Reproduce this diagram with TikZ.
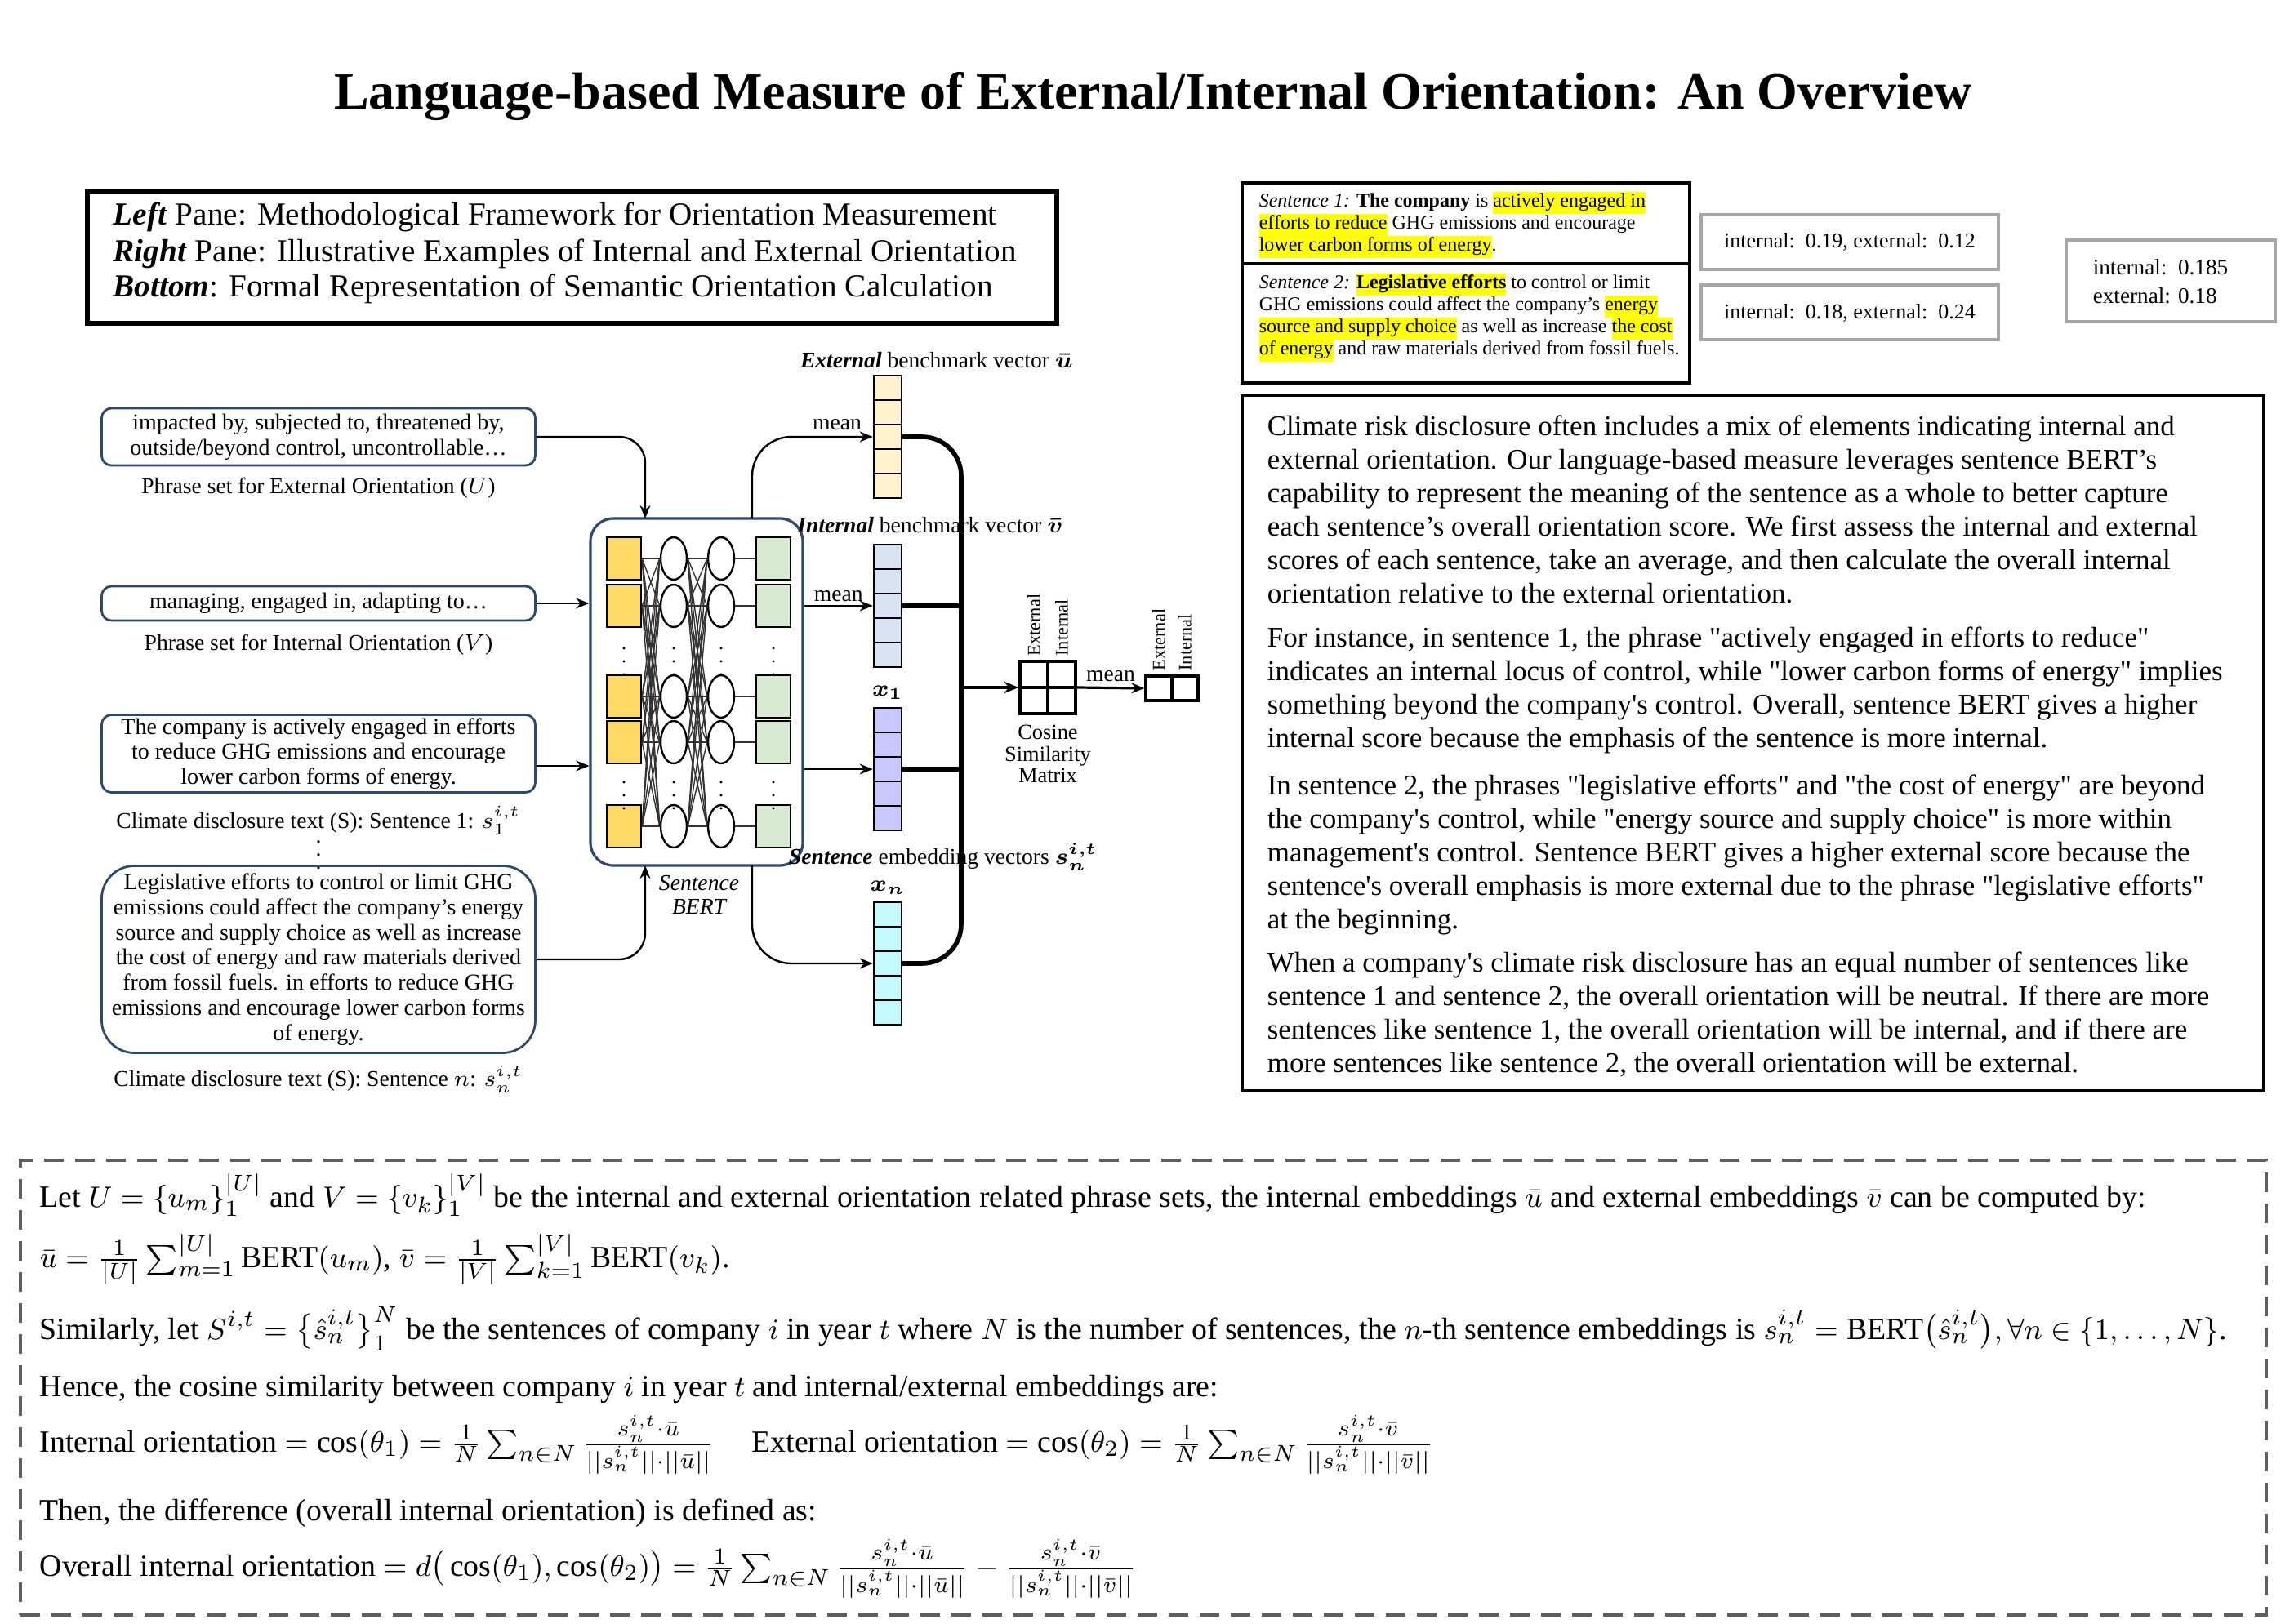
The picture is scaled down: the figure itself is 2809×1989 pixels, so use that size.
\documentclass[tikz,border=0pt]{standalone}
\usepackage{fontspec}
\setmainfont{Liberation Serif}
\usepackage{amsmath}
\usetikzlibrary{arrows.meta,calc,shapes.geometric}
\definecolor{navy}{HTML}{2E4870}
\definecolor{gold}{HTML}{FFD966}
\definecolor{lgreen}{HTML}{D9EAD3}
\definecolor{ucol}{HTML}{FFF2CC}
\definecolor{vcol}{HTML}{DAE3F3}
\definecolor{xcol}{HTML}{C8C8FF}
\definecolor{ncol}{HTML}{C4FAFF}
\definecolor{hly}{HTML}{FFFF00}
\definecolor{dashc}{HTML}{5F5F5F}
\definecolor{scoreb}{HTML}{A6A6A6}
\def\pxu{0.25pt}
\newcommand\fs[2]{\fontsize{#1}{#2}\selectfont}
\newcommand\hlt[1]{{\setlength{\fboxsep}{0pt}\colorbox{hly}{\strut #1}}}
\newcommand\qq[1]{\textquotedbl#1\textquotedbl}
\newcommand\myap{\textquotesingle}
\begin{document}
\begin{tikzpicture}[x=0.25pt,y=-0.25pt,
  every node/.style={inner sep=0pt},
  lbl/.style={font=\fs{6.9}{7.6}},
  inbox/.style={draw=navy, line width=0.7pt, rounded corners=3pt, align=center, minimum width=531*\pxu, font=\fs{7}{7.7}},
  ysq/.style={draw=black, fill=gold, line width=0.6pt, minimum width=42*\pxu, minimum height=52*\pxu},
  gsq/.style={draw=black, fill=lgreen, line width=0.6pt, minimum width=42*\pxu, minimum height=52*\pxu},
  neu/.style={draw=black, ellipse, fill=white, line width=0.6pt, minimum width=32*\pxu, minimum height=52*\pxu},
  cell/.style={draw=black, line width=0.6pt, minimum width=34*\pxu, minimum height=30*\pxu},
  arr/.style={-{Stealth[length=4pt,width=3.2pt]}, line width=0.6pt},
  bus/.style={line width=1.4pt},
  netl/.style={line width=0.35pt, black!80},
  scorebox/.style={draw=scoreb, line width=1pt, font=\fs{6.5}{9}},
  para/.style={anchor=north west, align=left, font=\fs{8.75}{10.25}},
  fline/.style={anchor=base west, font=\fs{9.45}{11}}
]
\fill[white] (0,0) rectangle (2809,1989);
\useasboundingbox (0,0) rectangle (2809,1989);

% Title
\node[font=\fs{16}{18}\bfseries] (title) at (1412,118) {Language-based Measure of External/Internal Orientation: An Overview};

% Legend box
\node[draw, line width=1.4pt, minimum width=1187*\pxu, minimum height=161*\pxu] (leg) at (700.5,315.5) {};
\node[anchor=base west, font=\fs{9.8}{11}] (leg1) at (138,276) {\textbf{\textit{Left}} Pane: Methodological Framework for Orientation Measurement};
\node[anchor=base west, font=\fs{9.8}{11}] (leg2) at (138,321) {\textbf{\textit{Right}} Pane: Illustrative Examples of Internal and External Orientation};
\node[anchor=base west, font=\fs{9.8}{11}] (leg3) at (138,364) {\textbf{\textit{Bottom}}: Formal Representation of Semantic Orientation Calculation};

% Left input boxes
\node[inbox, minimum height=70*\pxu] (ph1) at (390,535) {impacted by, subjected to, threatened by,\\outside/beyond control, uncontrollable\ldots};
\node[lbl] (ph1l) at (390,598) {Phrase set for External Orientation ($U$)};
\node[inbox, minimum height=42*\pxu] (ph2) at (390,739) {managing, engaged in, adapting to\ldots};
\node[lbl] (ph2l) at (390,790) {Phrase set for Internal Orientation ($V$)};
\node[inbox, minimum height=95*\pxu] (s1) at (390,923) {The company is actively engaged in efforts\\to reduce GHG emissions and encourage\\lower carbon forms of energy.};
\node[lbl] (s1l) at (390,1005) {Climate disclosure text (S): Sentence 1: $s_1^{i,t}$};
\node[lbl] (vd) at (390,1035) {$\vdots$};
\node[inbox, rounded corners=10pt, minimum height=229*\pxu] (sn) at (390,1175) {Legislative efforts to control or limit GHG\\emissions could affect the company’s energy\\source and supply choice as well as increase\\the cost of energy and raw materials derived\\from fossil fuels. in efforts to reduce GHG\\emissions and encourage lower carbon forms\\of energy.};
\node[lbl] (snl) at (390,1322) {Climate disclosure text (S): Sentence $n$: $s_n^{i,t}$};

% BERT box
\node[draw=navy, rounded corners=7pt, line width=0.8pt, minimum width=260*\pxu, minimum height=425*\pxu] (bert) at (853,847.5) {};
\foreach \r/\yy in {1/684,2/742,3/853,4/909,5/1012}{
  \node[ysq] (y\r) at (764,\yy) {};
  \node[neu] (a\r) at (825,\yy) {};
  \node[neu] (b\r) at (883,\yy) {};
  \node[gsq] (g\r) at (947,\yy) {};
}
\foreach \i in {1,...,5}{
  \foreach \j in {1,...,5}{
    \draw[netl] (y\i.east) -- (a\j.west);
    \draw[netl] (a\i.east) -- (b\j.west);
  }
  \draw[netl] (b\i.east) -- (g\i.west);
}
\foreach \xx in {764,825,883,947}{
  \foreach \yy in {798,962}{
    \node[font=\fs{6}{6}] (dt\xx\yy) at (\xx,\yy) {$\vdots$};
  }
}
\node[align=center, font=\fs{6.9}{7.2}\itshape] (bertl) at (856,1096) {Sentence\\BERT};

% inputs -> BERT
\coordinate (bin1) at (790,635);
\coordinate (bin4) at (790,1060);
\draw[arr, rounded corners=8pt] (ph1.east) -| (bin1);
\draw[arr] (ph2.east) -- (ph2.east -| bert.west);
\draw[arr] ([yshift=-3.75pt]s1.east) -- ([yshift=-3.75pt]s1.east -| bert.west);
\draw[arr, rounded corners=8pt] (sn.east) -| (bin4);

% vectors
\foreach \nm/\cy/\vc in {u/535/ucol, v/742/vcol, x/942/xcol, n/1180/ncol}{
  \foreach \k in {1,...,5}{
    \node[cell, fill=\vc] (\nm\k) at (1087,{\cy+30*(\k-3)}) {};
  }
}
\node[lbl] (ulab) at (1147,441) {\textbf{\textit{External}} benchmark vector $\boldsymbol{\bar{u}}$};
\node[lbl] (vlab) at (1139,643) {\textbf{\textit{Internal}} benchmark vector $\boldsymbol{\bar{v}}$};
\node[lbl] (x1lab) at (1087,848) {$\boldsymbol{x_1}$};
\node[lbl] (slab) at (1155,1050) {\textbf{\textit{Sentence}} embedding vectors $\boldsymbol{s_n^{i,t}}$};
\node[lbl] (xnlab) at (1087,1087) {$\boldsymbol{x_n}$};

% BERT -> vectors
\coordinate (bout1) at (921,635);
\coordinate (bout4) at (921,1060);
\draw[arr, rounded corners=12pt] (bout1) |- (u3.west);
\node[lbl, anchor=south] (m1) at (1025,528) {mean};
\draw[arr] (bert.east |- v3.west) -- (v3.west) node[midway, above=1pt, lbl] (m2) {mean};
\draw[arr] (bert.east |- x3.west) -- (x3.west);
\draw[arr, rounded corners=12pt] (bout4) |- (n3.west);

% vectors -> bus
\coordinate (busx) at (1177,842);
\draw[bus, rounded corners=12pt] (u3.east) -| (busx) |- (n3.east);
\draw[bus] (v3.east) -- (v3.east -| busx);
\draw[bus] (x3.east) -- (x3.east -| busx);

% cosine matrix
\node[draw, line width=0.8pt, minimum width=68*\pxu, minimum height=64*\pxu] (cm) at (1283,842) {};
\draw[line width=0.8pt] (cm.north) -- (cm.south);
\draw[line width=0.8pt] (cm.west) -- (cm.east);
\draw[-{Stealth[length=4.5pt,width=3.6pt]}, line width=1pt] (busx) -- (cm.west);
\node[align=center, anchor=north, font=\fs{6.6}{6.6}] (cml) at ([yshift=-3pt]cm.south) {Cosine\\Similarity\\Matrix};
\node[rotate=90, anchor=west, font=\fs{5.6}{6}] (cme) at ([xshift=-4.25pt, yshift=1pt]cm.north) {External};
\node[rotate=90, anchor=west, font=\fs{5.6}{6}] (cmi) at ([xshift=4.25pt, yshift=1pt]cm.north) {Internal};

\node[draw, line width=0.8pt, minimum width=64*\pxu, minimum height=30*\pxu] (oc) at (1435,843) {};
\draw[line width=0.8pt] (oc.north) -- (oc.south);
\draw[arr, line width=0.8pt] (cm.east) -- (oc.west) node[midway, above=1.5pt, lbl] (m3) {mean};
\node[rotate=90, anchor=west, font=\fs{5.6}{6}] (oce) at ([xshift=-4pt, yshift=1pt]oc.north) {External};
\node[rotate=90, anchor=west, font=\fs{5.6}{6}] (oci) at ([xshift=4pt, yshift=1pt]oc.north) {Internal};

% Right pane: sentence table
\node[draw, line width=0.8pt, minimum width=548*\pxu, minimum height=245*\pxu] (tab) at (1795,346.5) {};
\draw[line width=1.1pt] (1521,323) -- (2069,323);
\node[anchor=north west, align=left, font=\fs{6}{6.75}] (s1t) at (1541,234) {\textit{Sentence 1:} \textbf{The company} is \hlt{actively engaged in}\\\hlt{efforts to reduce} GHG emissions and encourage\\\hlt{lower carbon forms of energy}.};
\node[anchor=north west, align=left, font=\fs{6}{6.75}] (s2t) at (1541,334) {\textit{Sentence 2:} \hlt{\textbf{Legislative efforts}} to control or limit\\GHG emissions could affect the company’s \hlt{energy}\\\hlt{source and supply choice} as well as increase \hlt{the cost}\\\hlt{of energy} and raw materials derived from fossil fuels.};

\node[scorebox, minimum width=364*\pxu, minimum height=67*\pxu] (sa) at (2265,296.5) {internal:\ \ 0.19, external:\ \ 0.12};
\node[scorebox, minimum width=364*\pxu, minimum height=67*\pxu] (sb) at (2265,383) {internal:\ \ 0.18, external:\ \ 0.24};
\node[scorebox, minimum width=256*\pxu, minimum height=100*\pxu] (sc) at (2658,344) {};
\node[anchor=west, align=left, font=\fs{6.8}{8.8}] (sct) at (2562,345) {internal:\ \ 0.185\\external: 0.18};

% Right text box
\node[draw, line width=0.9pt, minimum width=1251*\pxu, minimum height=852*\pxu] (rt) at (2146.5,910) {};
\node[para] (p1) at (1551,508) {Climate risk disclosure often includes a mix of elements indicating internal and\\external orientation. Our language-based measure leverages sentence BERT’s\\capability to represent the meaning of the sentence as a whole to better capture\\each sentence’s overall orientation score. We first assess the internal and external\\scores of each sentence, take an average, and then calculate the overall internal\\orientation relative to the external orientation.};
\node[para] (p2) at (1551,767) {For instance, in sentence 1, the phrase \qq{actively engaged in efforts to reduce}\\indicates an internal locus of control, while \qq{lower carbon forms of energy} implies\\something beyond the company\myap s control. Overall, sentence BERT gives a higher\\internal score because the emphasis of the sentence is more internal.};
\node[para] (p3) at (1551,948) {In sentence 2, the phrases \qq{legislative efforts} and \qq{the cost of energy} are beyond\\the company\myap s control, while \qq{energy source and supply choice} is more within\\management\myap s control. Sentence BERT gives a higher external score because the\\sentence\myap s overall emphasis is more external due to the phrase \qq{legislative efforts}\\at the beginning.};
\node[para] (p4) at (1551,1165) {When a company\myap s climate risk disclosure has an equal number of sentences like\\sentence 1 and sentence 2, the overall orientation will be neutral. If there are more\\sentences like sentence 1, the overall orientation will be internal, and if there are\\more sentences like sentence 2, the overall orientation will be external.};

% Bottom formal box
\node[draw=dashc, dash pattern=on 6pt off 3.5pt, line width=0.9pt, minimum width=2750*\pxu, minimum height=557*\pxu] (fb) at (1400,1699.5) {};
\node[fline] (f1) at (48,1478) {Let $U=\{u_m\}_1^{|U|}$ and $V=\{v_k\}_1^{|V|}$ be the internal and external orientation related phrase sets, the internal embeddings $\bar{u}$ and external embeddings $\bar{v}$ can be computed by:};
\node[fline] (f2) at (48,1552) {$\bar{u}=\frac{1}{|U|}\sum_{m=1}^{|U|}\text{BERT}(u_m)$, $\bar{v}=\frac{1}{|V|}\sum_{k=1}^{|V|}\text{BERT}(v_k)$.};
\node[fline] (f3) at (48,1640) {Similarly, let $S^{i,t}=\big\{\hat{s}_n^{i,t}\big\}_1^N$ be the sentences of company $i$ in year $t$ where $N$ is the number of sentences, the $n$-th sentence embeddings is $s_n^{i,t}=\text{BERT}\big(\hat{s}_n^{i,t}\big), \forall n\in\{1,\dots,N\}$.};
\node[fline] (f4) at (48,1710) {Hence, the cosine similarity between company $i$ in year $t$ and internal/external embeddings are:};
\node[fline] (f5) at (48,1778) {Internal orientation $=\cos(\theta_1)=\frac{1}{N}\sum_{n\in N}\frac{s_n^{i,t}\cdot\bar{u}}{||s_n^{i,t}||\cdot||\bar{u}||}$};
\node[fline] (f5b) at ([xshift=11pt]f5.base east) {External orientation $=\cos(\theta_2)=\frac{1}{N}\sum_{n\in N}\frac{s_n^{i,t}\cdot\bar{v}}{||s_n^{i,t}||\cdot||\bar{v}||}$};
\node[fline] (f6) at (48,1862) {Then, the difference (overall internal orientation) is defined as:};
\node[fline] (f7) at (48,1930) {Overall internal orientation $=d\big(\cos(\theta_1),\cos(\theta_2)\big)=\frac{1}{N}\sum_{n\in N}\frac{s_n^{i,t}\cdot\bar{u}}{||s_n^{i,t}||\cdot||\bar{u}||}-\frac{s_n^{i,t}\cdot\bar{v}}{||s_n^{i,t}||\cdot||\bar{v}||}$};
\end{tikzpicture}
\end{document}
